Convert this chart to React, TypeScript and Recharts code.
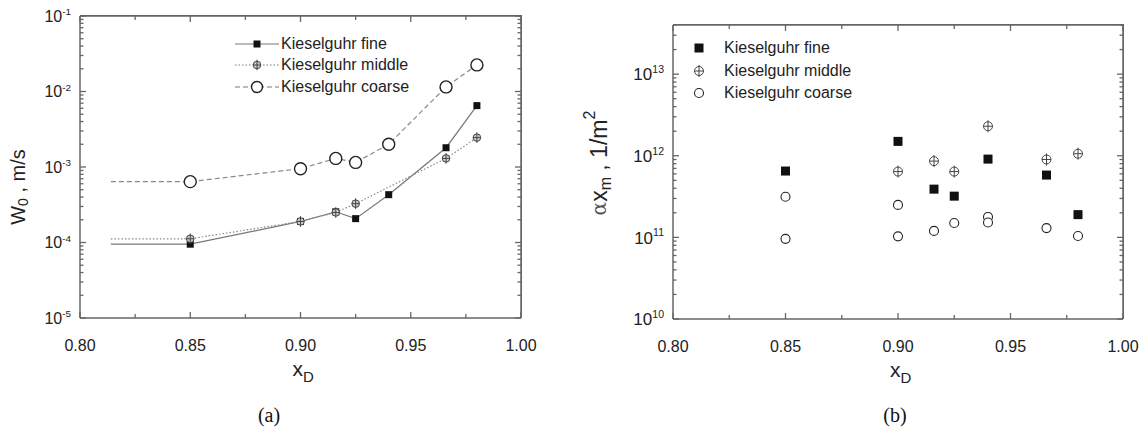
import React from 'react';
import { Legend, Line, LineChart, Scatter, ScatterChart, XAxis, YAxis } from 'recharts';

const FONT = '"Liberation Sans", Arial, sans-serif';
const FRAME = '#666';
const INK = '#222';

const SERIES_NAMES = ['Kieselguhr fine', 'Kieselguhr middle', 'Kieselguhr coarse'];

const X_TICKS = [0.8, 0.825, 0.85, 0.875, 0.9, 0.925, 0.95, 0.975, 1.0];
const X_TICK_LABELS = ['0.80', '0.85', '0.90', '0.95', '1.00'];

// (a) W0 [m/s] vs xD — the first point of each curve is where the drawn line starts (no marker)
const W0_FINE_X = [0.814, 0.85, 0.9, 0.916, 0.925, 0.94, 0.966, 0.98];
const W0_FINE = [9.5e-5, 9.5e-5, 1.9e-4, 2.55e-4, 2.07e-4, 4.3e-4, 1.8e-3, 6.5e-3];
const W0_MIDDLE_X = [0.814, 0.85, 0.9, 0.916, 0.925, 0.966, 0.98];
const W0_MIDDLE = [1.12e-4, 1.12e-4, 1.9e-4, 2.5e-4, 3.27e-4, 1.3e-3, 2.45e-3];
const W0_COARSE_X = [0.814, 0.85, 0.9, 0.916, 0.925, 0.94, 0.966, 0.98];
const W0_COARSE = [6.4e-4, 6.4e-4, 9.5e-4, 1.3e-3, 1.15e-3, 2.0e-3, 1.15e-2, 2.25e-2];
const W0_DOMAIN = [1e-5, 1e-1];

// (b) alpha * x_m [1/m^2] vs xD
const AX_FINE_X = [0.85, 0.9, 0.916, 0.925, 0.94, 0.966, 0.98];
const AX_FINE = [6.5e11, 1.5e12, 3.9e11, 3.2e11, 9.1e11, 5.8e11, 1.9e11];
const AX_MIDDLE_X = [0.9, 0.916, 0.925, 0.94, 0.966, 0.98];
const AX_MIDDLE = [6.4e11, 8.6e11, 6.4e11, 2.3e12, 9.0e11, 1.06e12];
const AX_COARSE_X = [0.85, 0.85, 0.9, 0.9, 0.916, 0.925, 0.94, 0.94, 0.966, 0.98];
const AX_COARSE = [3.15e11, 9.6e10, 2.5e11, 1.03e11, 1.2e11, 1.5e11, 1.78e11, 1.52e11, 1.3e11, 1.04e11];
const AX_DOMAIN = [1e10, 4e13];

const zip = (xs: number[], ys: number[]) => xs.map((x, i) => ({ x, y: ys[i] }));

// every 1..9 x 10^k inside the domain, for the log axes
function logTicks([lo, hi]: number[]) {
  const out: number[] = [];
  for (let e = Math.floor(Math.log10(lo)); e <= Math.ceil(Math.log10(hi)); e++) {
    for (let k = 1; k <= 9; k++) {
      const v = k * Math.pow(10, e);
      if (v >= lo * 0.999 && v <= hi * 1.001) out.push(v);
    }
  }
  return out;
}

const isDecade = (v: number) => Math.abs(Math.log10(v) - Math.round(Math.log10(v))) < 1e-6;
const xLabel = (v: number) => X_TICK_LABELS.find((l) => Math.abs(parseFloat(l) - v) < 1e-9);

// ---------- markers ----------
function Square({ cx, cy, s }: any) {
  return <rect x={cx - s / 2} y={cy - s / 2} width={s} height={s} fill="#111" />;
}
function CrossCircle({ cx, cy, r, fill }: any) {
  return (
    <g>
      <circle cx={cx} cy={cy} r={r} fill={fill} stroke="#444" strokeWidth={1} />
      <line x1={cx - r} x2={cx + r} y1={cy} y2={cy} stroke="#444" strokeWidth={1} />
      <line x1={cx} x2={cx} y1={cy - r - 1.5} y2={cy + r + 1.5} stroke="#444" strokeWidth={1} />
    </g>
  );
}
function OpenCircle({ cx, cy, r, w }: any) {
  return <circle cx={cx} cy={cy} r={r} fill="#fff" stroke="#222" strokeWidth={w} />;
}

// ---------- ticks (drawn inward, mirrored on the top / right edge of the box) ----------
const bottomTick = (plotTop: number) => (props: any) => {
  const { x, y, payload } = props;
  const label = xLabel(payload.value);
  const len = label ? 6 : 4;
  const last = Math.abs(payload.value - X_TICKS[X_TICKS.length - 1]) < 1e-9;
  return (
    <g>
      {last && <line x1={x} x2={x} y1={plotTop} y2={y} stroke={FRAME} strokeWidth={1.5} />}
      <line x1={x} x2={x} y1={y} y2={y - len} stroke={FRAME} strokeWidth={1.3} />
      <line x1={x} x2={x} y1={plotTop} y2={plotTop + len} stroke={FRAME} strokeWidth={1.3} />
      {label && (
        <text x={x} y={y + 33} textAnchor="middle" fontFamily={FONT} fontSize={16} fill={INK}>
          {label}
        </text>
      )}
    </g>
  );
};
const leftLogTick = (fontSize: number, plotRight: number, top: number) => (props: any) => {
  const { x, y, payload } = props;
  const major = isDecade(payload.value);
  const e = Math.round(Math.log10(payload.value));
  const len = major ? 6 : 3.5;
  const isTop = Math.abs(payload.value / top - 1) < 1e-6;
  return (
    <g>
      {isTop && <line x1={x} x2={plotRight} y1={y} y2={y} stroke={FRAME} strokeWidth={1.5} />}
      <line x1={x} x2={x + len} y1={y} y2={y} stroke={FRAME} strokeWidth={1.3} />
      <line x1={plotRight} x2={plotRight - len} y1={y} y2={y} stroke={FRAME} strokeWidth={1.3} />
      {major && (
        <text x={x - 9} y={y + fontSize * 0.36} textAnchor="end" fontFamily={FONT} fontSize={fontSize} fill={INK}>
          10
          <tspan dy={-fontSize * 0.42} fontSize={fontSize * 0.62}>
            {e}
          </tspan>
        </text>
      )}
    </g>
  );
};

// ---------- axis titles ----------
const xTitle = ({ viewBox }: any) => {
  const cx = viewBox.x + viewBox.width / 2;
  return (
    <text x={cx - 8} y={viewBox.y + 58} fontFamily={FONT} fontSize={21} fill={INK}>
      x<tspan dy={6} fontSize={15}>D</tspan>
    </text>
  );
};
const w0Title = ({ viewBox }: any) => {
  const cx = viewBox.x - 2;
  const cy = viewBox.y + viewBox.height / 2 + 20;
  return (
    <text x={cx} y={cy} transform={`rotate(-90 ${cx} ${cy})`} textAnchor="middle" dominantBaseline="central"
      fontFamily={FONT} fontSize={20} fill={INK}>
      W<tspan dy={5} fontSize={14}>0</tspan>
      <tspan dy={-5}> ,  m/s</tspan>
    </text>
  );
};
const axTitle = ({ viewBox }: any) => {
  const cx = viewBox.x - 14;
  const cy = viewBox.y + viewBox.height / 2 - 9;
  return (
    <text x={cx} y={cy} transform={`rotate(-90 ${cx} ${cy})`} textAnchor="middle" dominantBaseline="central"
      fontFamily={FONT} fontSize={23} fill={INK}>
      <tspan fontFamily='"DejaVu Serif", serif' fontSize={20} fill="#555">α</tspan>
      <tspan>x</tspan>
      <tspan dy={6} fontSize={16}>m</tspan>
      <tspan dy={-6}> ,    1/m</tspan>
      <tspan dy={-10} fontSize={16}>2</tspan>
    </text>
  );
};

// ---------- legends ----------
const legendA = () => (
  <div style={{ fontFamily: FONT, fontSize: 16, color: INK, lineHeight: 1 }}>
    {SERIES_NAMES.map((name, i) => (
      <div key={name} style={{ display: 'flex', alignItems: 'center', height: 21.5 }}>
        <svg width={46} height={20} style={{ display: 'block' }}>
          <line x1={0} x2={44} y1={10} y2={10} stroke="#777" strokeWidth={1}
            strokeDasharray={i === 0 ? undefined : i === 1 ? '1.5 2' : '5 3'} />
          {i === 0 && <Square cx={22} cy={10} s={7} />}
          {i === 1 && <CrossCircle cx={22} cy={10} r={3.8} fill="#ccc" />}
          {i === 2 && <OpenCircle cx={22} cy={10} r={5.5} w={1.4} />}
        </svg>
        <span style={{ whiteSpace: 'nowrap' }}>{name}</span>
      </div>
    ))}
  </div>
);
const legendB = () => (
  <div style={{ fontFamily: FONT, fontSize: 16, color: INK, lineHeight: 1 }}>
    {SERIES_NAMES.map((name, i) => (
      <div key={name} style={{ display: 'flex', alignItems: 'center', height: 22.5 }}>
        <svg width={35} height={20} style={{ display: 'block' }}>
          {i === 0 && <Square cx={10} cy={10} s={9} />}
          {i === 1 && <CrossCircle cx={10} cy={10} r={4.5} fill="#fff" />}
          {i === 2 && <OpenCircle cx={10} cy={10} r={4.5} w={1.1} />}
        </svg>
        <span style={{ whiteSpace: 'nowrap' }}>{name}</span>
      </div>
    ))}
  </div>
);

const firstHidden = (draw: (p: any) => React.ReactElement, tag: string) => (p: any) =>
  p.index === 0 ? <g key={`${tag}-${p.index}`} /> : <g key={`${tag}-${p.index}`}>{draw(p)}</g>;

const frameLine = { stroke: FRAME, strokeWidth: 1.5 };

const A = { w: 560, h: 437, margin: { top: 16, right: 39, bottom: 89, left: 20 } };
const B = { w: 568, h: 437, margin: { top: 25, right: 25, bottom: 88, left: 33 } };

function PanelA() {
  const plotRight = A.w - A.margin.right;
  return (
    <LineChart width={A.w} height={A.h} margin={A.margin}>
      <XAxis dataKey="x" type="number" domain={[0.8, 1.0]} ticks={X_TICKS} interval={0} allowDataOverflow
        height={30} tickSize={0} tickMargin={0} tickLine={false} tick={bottomTick(A.margin.top)}
        axisLine={frameLine} label={{ content: xTitle }} />
      <YAxis dataKey="y" type="number" scale="log" domain={W0_DOMAIN} ticks={logTicks(W0_DOMAIN)} interval={0}
        allowDataOverflow width={60} tickSize={0} tickMargin={0} tickLine={false}
        tick={leftLogTick(16, plotRight, W0_DOMAIN[1])} axisLine={frameLine} label={{ content: w0Title }} />
      <Legend layout="vertical" align="center" verticalAlign="middle" content={legendA}
        wrapperStyle={{ left: 235, top: 33, width: 'auto' }} />
      <Line name={SERIES_NAMES[0]} data={zip(W0_FINE_X, W0_FINE)} dataKey="y" stroke="#777" strokeWidth={1.2}
        isAnimationActive={false} activeDot={false}
        dot={firstHidden((p) => <Square cx={p.cx} cy={p.cy} s={7} />, 'f')} />
      <Line name={SERIES_NAMES[1]} data={zip(W0_MIDDLE_X, W0_MIDDLE)} dataKey="y" stroke="#888"
        strokeWidth={1.2} strokeDasharray="1.5 2" isAnimationActive={false} activeDot={false}
        dot={firstHidden((p) => <CrossCircle cx={p.cx} cy={p.cy} r={3.8} fill="#ccc" />, 'm')} />
      <Line name={SERIES_NAMES[2]} data={zip(W0_COARSE_X, W0_COARSE)} dataKey="y" stroke="#888"
        strokeWidth={1.2} strokeDasharray="5 3" isAnimationActive={false} activeDot={false}
        dot={firstHidden((p) => <OpenCircle cx={p.cx} cy={p.cy} r={6} w={1.4} />, 'c')} />
    </LineChart>
  );
}

function PanelB() {
  const plotRight = B.w - B.margin.right;
  return (
    <ScatterChart width={B.w} height={B.h} margin={B.margin}>
      <XAxis dataKey="x" type="number" domain={[0.8, 1.0]} ticks={X_TICKS} interval={0} allowDataOverflow
        height={30} tickSize={0} tickMargin={0} tickLine={false} tick={bottomTick(B.margin.top)}
        axisLine={frameLine} label={{ content: xTitle }} />
      <YAxis dataKey="y" type="number" scale="log" domain={AX_DOMAIN} ticks={logTicks(AX_DOMAIN)} interval={0}
        allowDataOverflow width={60} tickSize={0} tickMargin={0} tickLine={false}
        tick={leftLogTick(17, plotRight, AX_DOMAIN[1])} axisLine={frameLine} label={{ content: axTitle }} />
      <Legend layout="vertical" align="center" verticalAlign="middle" content={legendB}
        wrapperStyle={{ left: 109, top: 37, width: 'auto' }} />
      <Scatter name={SERIES_NAMES[0]} data={zip(AX_FINE_X, AX_FINE)} isAnimationActive={false}
        shape={(p: any) => <Square cx={p.cx} cy={p.cy} s={9} />} />
      <Scatter name={SERIES_NAMES[1]} data={zip(AX_MIDDLE_X, AX_MIDDLE)} isAnimationActive={false}
        shape={(p: any) => <CrossCircle cx={p.cx} cy={p.cy} r={4.5} fill="#fff" />} />
      <Scatter name={SERIES_NAMES[2]} data={zip(AX_COARSE_X, AX_COARSE)} isAnimationActive={false}
        shape={(p: any) => <OpenCircle cx={p.cx} cy={p.cy} r={4.5} w={1.1} />} />
    </ScatterChart>
  );
}

// top/right edges of a plot box, as a plain overlay (matches the frame drawn by the ticks)
function BoxEdge({ left, top, right, bottom }: any) {
  return (
    <div style={{
      position: 'absolute', left, top: top - 0.75, width: right - left + 0.75, height: bottom - top + 0.75,
      borderTop: `1.5px solid ${FRAME}`, borderRight: `1.5px solid ${FRAME}`, boxSizing: 'border-box',
      pointerEvents: 'none',
    }} />
  );
}

const caption: React.CSSProperties = {
  position: 'absolute',
  top: 404,
  width: 40,
  textAlign: 'center',
  fontFamily: '"Liberation Serif", "Times New Roman", serif',
  fontSize: 20,
  color: '#111',
};

export default function App() {
  return (
    <div style={{ position: 'absolute', left: 0, top: 0, width: 1148, height: 437, background: '#fff' }}>
      <div style={{ position: 'absolute', left: 0, top: 0 }}>
        <PanelA />
      </div>
      <div style={{ position: 'absolute', left: 580, top: 0 }}>
        <PanelB />
      </div>
      <BoxEdge left={80} top={16} right={521} bottom={318} />
      <BoxEdge left={673} top={25} right={1123} bottom={319} />
      <div style={{ ...caption, left: 269 - 20 }}>(a)</div>
      <div style={{ ...caption, left: 895 - 20 }}>(b)</div>
    </div>
  );
}
